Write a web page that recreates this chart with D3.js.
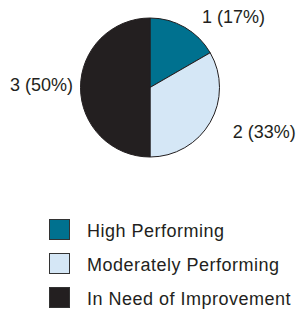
<!DOCTYPE html>
<html><head><meta charset="utf-8">
<script src="https://cdn.jsdelivr.net/npm/d3@7"></script>
<style>body{margin:0;background:#fff}svg{display:block}</style>
</head><body>
<svg id="c" width="299" height="310"></svg>
<script>
const categories = ["High Performing", "Moderately Performing", "In Need of Improvement"];
const values = [1, 2, 3];
const labels = ["1 (17%)", "2 (33%)", "3 (50%)"];
const colors = ["#00718f", "#d5e7f6", "#231f20"];

const svg = d3.select("#c");
const cx = 150, cy = 87.5, r = 69.5;
const pie = d3.pie().sort(null).value(d => d)(values);
const arc = d3.arc().innerRadius(0).outerRadius(r);
const g = svg.append("g").attr("transform", `translate(${cx},${cy})`);
g.selectAll("path").data(pie).join("path")
  .attr("d", arc)
  .attr("fill", (d, i) => colors[i])
  .attr("stroke", "#231f20").attr("stroke-width", 1);

const R = 84;
g.selectAll("text").data(pie).join("text")
  .attr("font-family", "Liberation Sans, Arial, sans-serif")
  .attr("font-size", 18).attr("fill", "#231f20")
  .each(function(d, i) {
    const a = (d.startAngle + d.endAngle) / 2;
    const right = Math.sin(a) > 0.01;
    const x = Math.sin(a) * R + (right ? 10 : 7);
    const y = -Math.cos(a) * R + 3 * Math.sin(a);
    d3.select(this).attr("x", x).attr("y", y).attr("dy", "0.35em")
      .attr("text-anchor", right ? "start" : "end").text(labels[i]);
  });

const leg = svg.append("g");
const ly = d3.scalePoint().domain(categories).range([219, 287]);
const item = leg.selectAll("g").data(categories).join("g")
  .attr("transform", d => `translate(0,${ly(d)})`);
item.append("rect").attr("x", 49.5).attr("y", 0.5).attr("width", 20).attr("height", 20)
  .attr("fill", (d, i) => colors[i]).attr("stroke", "#333").attr("stroke-width", 1);
item.append("text").attr("x", 87).attr("y", 18)
  .attr("font-family", "Liberation Sans, Arial, sans-serif")
  .attr("letter-spacing", 0.5)
  .attr("font-size", 18).attr("fill", "#231f20").text(d => d);
</script>
</body></html>
